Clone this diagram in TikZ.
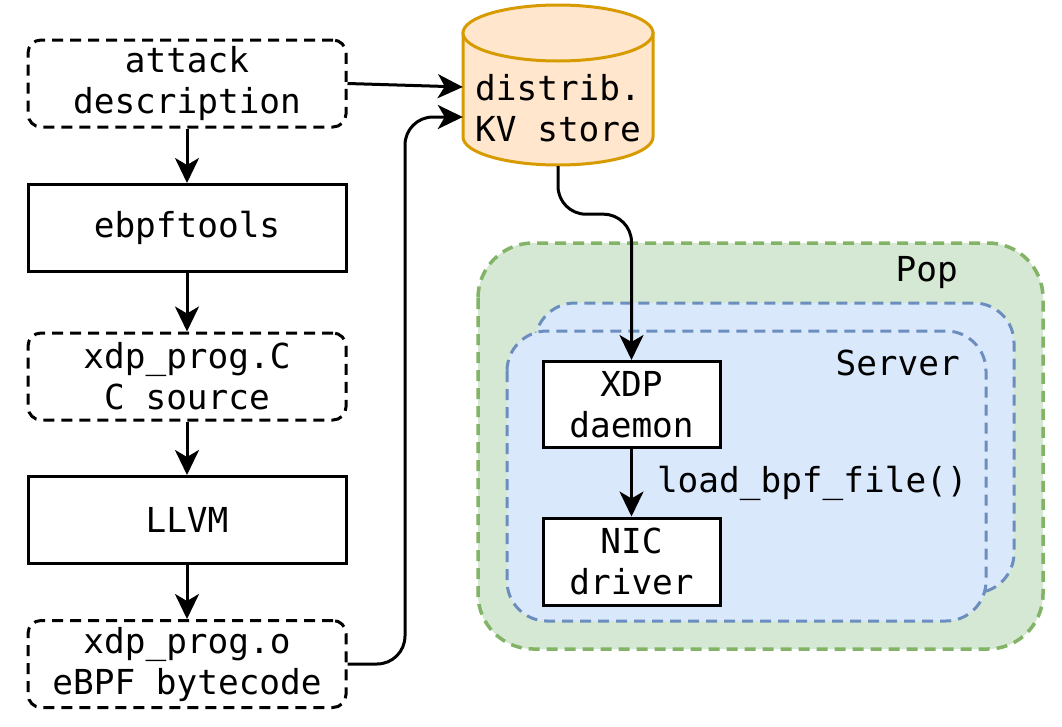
\documentclass[tikz,border=0pt]{standalone}
\usepackage{fontspec}
\newfontfamily\dmono{DejaVu Sans Mono}
\usetikzlibrary{arrows.meta}
\definecolor{popfill}{HTML}{D5E8D4}
\definecolor{popline}{HTML}{82B366}
\definecolor{srvfill}{HTML}{DAE8FC}
\definecolor{srvline}{HTML}{6C8EBF}
\definecolor{kvfill}{HTML}{FFE6CC}
\definecolor{kvline}{HTML}{D79B00}
\tikzset{
  txt/.style={font=\dmono\fontsize{34.4}{41}\selectfont, align=center, inner sep=0pt},
  dbox/.style={txt, draw, line width=3pt, dash pattern=on 11pt off 7pt, rounded corners=13pt, minimum width=318pt, minimum height=87pt},
  sbox/.style={txt, draw, line width=3pt, minimum width=318pt, minimum height=87pt},
  wbox/.style={txt, draw, fill=white, line width=3pt, minimum width=177pt, minimum height=86pt},
  arr/.style={-{Stealth[length=25pt, width=24pt, inset=7pt]}, line width=3pt},
  popst/.style={fill=popfill, draw=popline, line width=3.5pt, dash pattern=on 11pt off 7pt, rounded corners=55pt},
  srvst/.style={fill=srvfill, draw=srvline, line width=3pt, dash pattern=on 11pt off 7pt, rounded corners=40pt},
}
\begin{document}
\begin{tikzpicture}[x=1pt, y=-1pt]
\useasboundingbox (0,0) rectangle (1062,726);
% containers
\draw[popst] (478,243) rectangle (1043,649);
\draw[srvst] (535,303) rectangle (1014,593);
\draw[srvst] (507,331) rectangle (986,621);
\node[txt, anchor=east] (pop) at (958,273) {Pop};
\node[txt, anchor=east] (srv) at (960,363) {Server};
% left column
\node[dbox] (att) at (187,83.5) {attack\\description};
\node[sbox] (ebpf) at (187,228) {ebpftools};
\node[dbox] (src) at (187,376.5) {xdp\_prog.C\\C source};
\node[sbox] (llvm) at (187,520) {LLVM};
\node[dbox] (bc) at (187,664) {xdp\_prog.o\\eBPF bytecode};
% cylinder
\draw[fill=kvfill, draw=kvline, line width=3pt]
  (463,33) -- (463,137) .. controls (463,152.5) and (505.5,165) .. (558,165)
  .. controls (610.5,165) and (653,152.5) .. (653,137) -- (653,33) -- cycle;
\draw[fill=kvfill, draw=kvline, line width=3pt] (558,33) ellipse [x radius=95, y radius=28];
\node[txt, minimum width=190pt, minimum height=116pt] (kv) at (558,108) {distrib.\\KV store};
% server boxes
\node[wbox] (xdp) at (631.5,404.5) {XDP\\daemon};
\node[wbox, minimum height=87pt] (nic) at (631.5,561.5) {NIC\\driver};
% connectors
\draw[arr] (att) -- (ebpf);
\draw[arr] (ebpf) -- (src);
\draw[arr] (src) -- (llvm);
\draw[arr] (llvm) -- (bc);
\draw[arr] (att.east) -- ([yshift=21pt]kv.west);
\coordinate (j2) at (405,117);
\draw[arr, rounded corners=28pt] (bc.east) -| (j2) -- ([yshift=-9pt]kv.west);
\draw[arr, rounded corners=28pt] (kv.south) -- ++(0,48) -| (xdp.north);
\draw[arr] (xdp) -- node[txt, anchor=west, xshift=24pt, yshift=-1pt] (lbl) {load\_bpf\_file()} (nic);
\end{tikzpicture}
\end{document}
